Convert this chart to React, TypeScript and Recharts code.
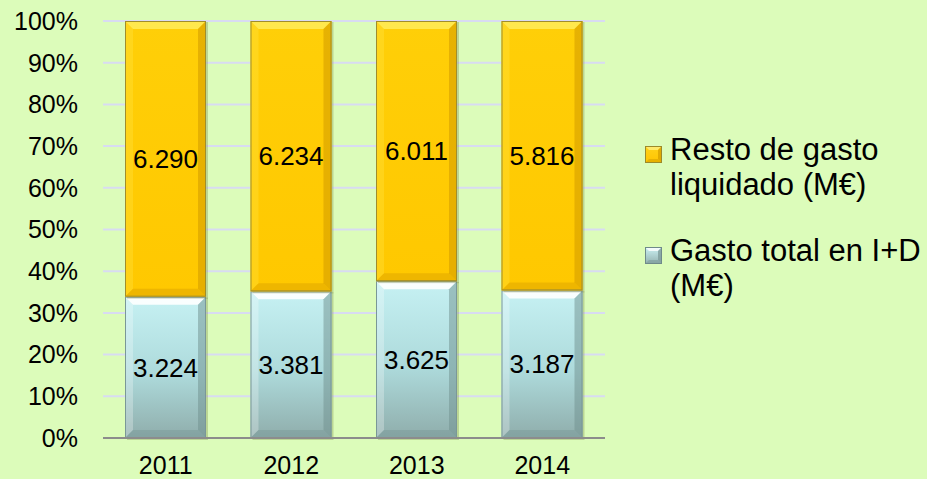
import React from 'react';
import { BarChart, Bar, XAxis, YAxis, CartesianGrid, Legend, LabelList } from 'recharts';

const years = ['2011', '2012', '2013', '2014'];
const gastoID = [3224, 3381, 3625, 3187];
const restoGasto = [6290, 6234, 6011, 5816];
const yTicks = [0, 0.1, 0.2, 0.3, 0.4, 0.5, 0.6, 0.7, 0.8, 0.9, 1];
const legendItems = [
  { key: 'resto', lines: ['Resto de gasto', 'liquidado (M€)'], grad: 'gradYellow', light: '#fff080', dark: '#d9a200', stroke: '#9c8a2a' },
  { key: 'gasto', lines: ['Gasto total en I+D', '(M€)'], grad: 'gradBlue', light: '#ffffff', dark: '#7f9c9b', stroke: '#6f8a8a' },
];

const data = years.map((y, i) => ({ year: y, gasto: gastoID[i], resto: restoGasto[i] }));

const FONT = '"Liberation Sans", Arial, sans-serif';
const fmt = (v: number) => (v / 1000).toFixed(3);

const BevelBar = (props: any) => {
  const { x, y, width: w, height: h, grad, light, dark, stroke, lightOp, darkOp } = props;
  if (!h || h <= 0) return null;
  const b = Math.min(8, h / 2);
  return (
    <g>
      <rect x={x + 2} y={y + 1} width={w} height={h + 1} fill="#6f7f3a" opacity={0.3} />
      <rect x={x} y={y} width={w} height={h} fill={`url(#${grad})`} />
      <polygon points={`${x},${y} ${x + w},${y} ${x + w - b},${y + b} ${x + b},${y + b}`} fill={light} opacity={lightOp} />
      <polygon points={`${x},${y} ${x + b},${y + b} ${x + b},${y + h - b} ${x},${y + h}`} fill={light} opacity={lightOp * 0.3} />
      <polygon points={`${x + w},${y} ${x + w},${y + h} ${x + w - b},${y + h - b} ${x + w - b},${y + b}`} fill={dark} opacity={darkOp} />
      <polygon points={`${x},${y + h} ${x + w},${y + h} ${x + w - b},${y + h - b} ${x + b},${y + h - b}`} fill={dark} opacity={darkOp * 0.7} />
      <rect x={x + 0.5} y={y + 0.5} width={w - 1} height={h - 1} fill="none" stroke={stroke} strokeWidth={1} />
    </g>
  );
};

const LegendMarker = ({ item }: any) => (
  <svg width={17} height={17} style={{ display: 'block' }}>
    <rect x={0} y={0} width={17} height={17} fill={`url(#${item.grad}L)`} />
    <polygon points="0,0 17,0 13,4 4,4" fill={item.light} opacity={0.8} />
    <polygon points="17,0 17,17 13,13 13,4" fill={item.dark} opacity={0.8} />
    <polygon points="0,17 17,17 13,13 4,13" fill={item.dark} opacity={0.6} />
    <rect x={0.5} y={0.5} width={16} height={16} fill="none" stroke={item.stroke} />
  </svg>
);

const renderLegend = () => (
  <div style={{ fontFamily: FONT, fontSize: 31, lineHeight: '35px', color: '#000' }}>
    <svg width={0} height={0} style={{ position: 'absolute' }}>
      <defs>
        <linearGradient id="gradYellowL" x1="0" y1="0" x2="0" y2="1">
          <stop offset="0%" stopColor="#ffd21a" />
          <stop offset="100%" stopColor="#ffc400" />
        </linearGradient>
        <linearGradient id="gradBlueL" x1="0" y1="0" x2="0" y2="1">
          <stop offset="0%" stopColor="#cdf3f5" />
          <stop offset="100%" stopColor="#92b0ae" />
        </linearGradient>
      </defs>
    </svg>
    {legendItems.map((it, idx) => (
      <div key={it.key} style={{ position: 'relative', paddingLeft: 30, marginBottom: idx === 0 ? 31 : 0 }}>
        <div style={{ position: 'absolute', left: 5, top: 14 }}>
          <LegendMarker item={it} />
        </div>
        {it.lines.map((l) => (
          <div key={l} style={{ whiteSpace: 'nowrap' }}>{l}</div>
        ))}
      </div>
    ))}
  </div>
);

export default function App() {
  return (
    <div style={{ position: 'absolute', left: 0, top: 0, width: 927, height: 479, background: '#dcfcba' }}>
      <BarChart
        width={927}
        height={479}
        data={data}
        stackOffset="expand"
        barSize={81}
        margin={{ top: 21, right: 322, bottom: 0, left: 0 }}
        style={{ fontFamily: FONT }}
      >
        <defs>
          <linearGradient id="gradYellow" x1="0" y1="0" x2="0" y2="1">
            <stop offset="0%" stopColor="#ffcf08" />
            <stop offset="100%" stopColor="#ffc800" />
          </linearGradient>
          <linearGradient id="gradBlue" x1="0" y1="0" x2="0" y2="1">
            <stop offset="0%" stopColor="#c6f1f3" />
            <stop offset="55%" stopColor="#addadb" />
            <stop offset="100%" stopColor="#8fadab" />
          </linearGradient>
        </defs>
        <CartesianGrid vertical={false} stroke="#d8dbf2" strokeWidth={2} />
        <XAxis
          dataKey="year"
          height={41}
          axisLine={{ stroke: '#8c8c8c', strokeWidth: 2 }}
          tickLine={false}
          tickSize={0}
          tickMargin={18}
          tick={{ fill: '#000', fontSize: 25, fontFamily: FONT }}
        />
        <YAxis
          width={103}
          domain={[0, 1]}
          ticks={yTicks}
          axisLine={false}
          tickLine={false}
          tickSize={0}
          tickMargin={25}
          tickFormatter={(v: number) => `${Math.round(v * 100)}%`}
          tick={{ fill: '#000', fontSize: 25, fontFamily: FONT }}
        />
        <Legend
          layout="vertical"
          align="center"
          verticalAlign="middle"
          content={renderLegend}
          wrapperStyle={{ position: 'absolute', left: 640, top: 132, width: 287 }}
        />
        <Bar
          dataKey="gasto"
          name="Gasto total en I+D (M€)"
          stackId="a"
          isAnimationActive={false}
          shape={(p: any) => (
            <BevelBar {...p} grad="gradBlue" light="#ffffff" dark="#6f8f8e" stroke="#7a9797" lightOp={0.9} darkOp={0.5} />
          )}
        >
          <LabelList dataKey="gasto" position="center" formatter={(v: any) => fmt(Number(v))} fill="#000" fontSize={26} fontFamily={FONT} />
        </Bar>
        <Bar
          dataKey="resto"
          name="Resto de gasto liquidado (M€)"
          stackId="a"
          isAnimationActive={false}
          shape={(p: any) => (
            <BevelBar {...p} grad="gradYellow" light="#fff066" dark="#d69e00" stroke="#a08d2c" lightOp={0.75} darkOp={0.6} />
          )}
        >
          <LabelList dataKey="resto" position="center" formatter={(v: any) => fmt(Number(v))} fill="#000" fontSize={26} fontFamily={FONT} />
        </Bar>
      </BarChart>
    </div>
  );
}
